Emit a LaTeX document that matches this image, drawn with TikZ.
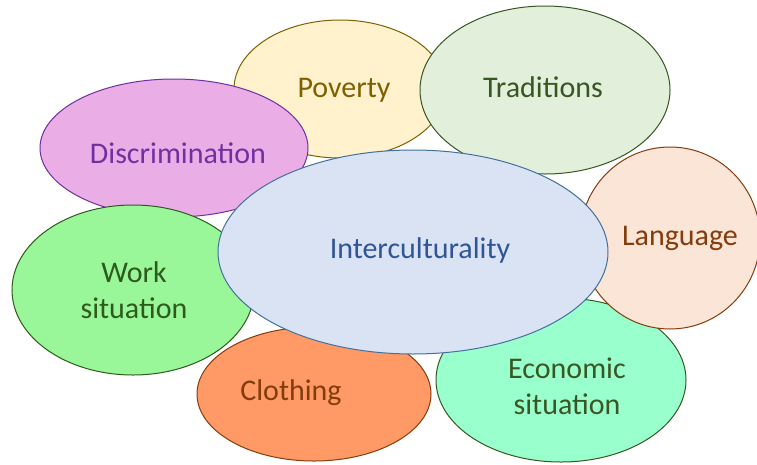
\documentclass[tikz,border=0pt]{standalone}
\usepackage{fontspec}
\setsansfont{Carlito}
\usetikzlibrary{shapes.geometric}
\tikzset{every picture/.style={/utils/exec={\sffamily}}}

\definecolor{povfill}{HTML}{FFF2CC}
\definecolor{povline}{HTML}{7F6000}
\definecolor{trafill}{HTML}{E2EFDA}
\definecolor{traline}{HTML}{375623}
\definecolor{disfill}{HTML}{EBADE6}
\definecolor{disline}{HTML}{7030A0}
\definecolor{wrkfill}{HTML}{99F799}
\definecolor{wrkline}{HTML}{2E5A1E}
\definecolor{clofill}{HTML}{FF9966}
\definecolor{cloline}{HTML}{843C0C}
\definecolor{ecofill}{HTML}{99FFCC}
\definecolor{ecoline}{HTML}{385723}
\definecolor{lanfill}{HTML}{FBE5D6}
\definecolor{lanline}{HTML}{843C0C}
\definecolor{intfill}{HTML}{DAE3F3}
\definecolor{intline}{HTML}{41719C}
\definecolor{inttext}{HTML}{2F5597}

\tikzset{bubble/.style={ % every oval of the picture
           ellipse, draw, line width=1pt, inner sep=0pt},
         bubbletext/.style={ % the words inside the ovals
           font=\fontsize{30}{36}\selectfont, align=center}}

\begin{document}
\begin{tikzpicture}[x=1pt, y=-1pt]
  \useasboundingbox (0,0) rectangle (757,464);
  \clip (0,0) rectangle (757,464);

  \node [bubble, fill=povfill, draw=povline, minimum width=212, minimum height=138] (poverty) at (340,89) {};
  \node [bubbletext, text=povline] (povertytext) at (344,90) {Poverty};

  \node [bubble, fill=trafill, draw=traline, minimum width=250, minimum height=168] (traditions) at (545,90) {};
  \node [bubbletext, text=traline] (traditionstext) at (543,87) {Traditions};

  \node [bubble, fill=disfill, draw=disline, minimum width=268, minimum height=138] (discrimination) at (174,148) {};
  \node [bubbletext, text=disline] (discriminationtext) at (178,153) {Discrimination};

  \node [bubble, fill=wrkfill, draw=wrkline, minimum width=242, minimum height=170] (work) at (133,290) {};
  \node [bubbletext, text=wrkline] (worktext) at (134,290) {Work\\situation};

  \node [bubble, fill=clofill, draw=cloline, minimum width=234, minimum height=134] (clothing) at (314,394) {};
  \node [bubbletext, text=cloline] (clothingtext) at (291,393) {Clothing};

  \node [bubble, fill=ecofill, draw=ecoline, minimum width=250, minimum height=164] (economic) at (561,380) {};
  \node [bubbletext, text=ecoline] (economictext) at (567,386) {Economic\\situation};

  \node [bubble, fill=lanfill, draw=lanline, minimum width=180, minimum height=182] (language) at (670,238) {};
  \node [bubbletext, text=lanline] (languagetext) at (680,238) {Language};

  % the big one in the middle goes last
  \node [bubble, fill=intfill, draw=intline, minimum width=390, minimum height=204] (intercult) at (413,252) {};
  \node [bubbletext, text=inttext] (intercultext) at (420,250) {Interculturality};
\end{tikzpicture}
\end{document}
